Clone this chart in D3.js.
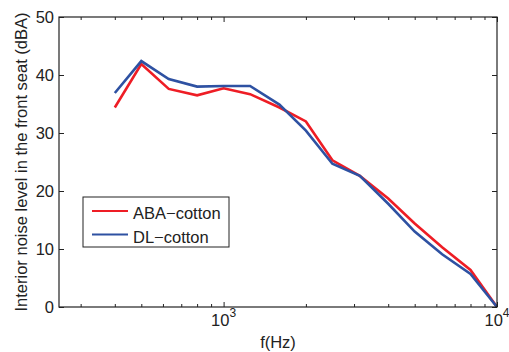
<!DOCTYPE html>
<html>
<head>
<meta charset="utf-8">
<script src="https://d3js.org/d3.v7.min.js"></script>
<style>
  body { margin: 0; background: #fff; }
  text { font-family: "Liberation Sans", Arial, sans-serif; fill: #222; }
</style>
</head>
<body>
<div class="noise-chart"></div>
<script>
// third-octave centre frequencies (Hz)
let freqs = [400, 500, 630, 800, 1000, 1250, 1600, 2000, 2500, 3150, 4000, 5000, 6300, 8000, 10000];
// interior noise level in the front seat (dBA)
let abaCotton = [34.4, 41.9, 37.6, 36.5, 37.7, 36.7, 34.4, 32.0, 25.3, 22.6, 18.7, 14.4, 10.3, 6.4, 0];
let dlCotton = [36.9, 42.4, 39.3, 38.0, 38.1, 38.1, 34.9, 30.4, 24.7, 22.6, 17.8, 13.0, 9.1, 5.7, 0];
let seriesNames = ["ABA\u2212cotton", "DL\u2212cotton"];
let seriesColors = ["#ee1d25", "#2e51a2"];
let yTicks = [0, 10, 20, 30, 40, 50];
let xMajor = [1000, 10000];
let xMinor = [300, 400, 500, 600, 700, 800, 900, 2000, 3000, 4000, 5000, 6000, 7000, 8000, 9000];

// set the dimensions and margins of the graph
let W = 509, H = 352;
let margin = { top: 17, right: 12, bottom: 45, left: 59 },
    width = W - margin.left - margin.right,
    height = H - margin.top - margin.bottom;

let svg = d3.select(".noise-chart")
    .append("svg")
    .attr("width", W)
    .attr("height", H)
    .append("g")
    .attr("transform", "translate(" + margin.left + "," + margin.top + ")");

let x = d3.scaleLog().domain([250, 10000]).range([0, width]);
let y = d3.scaleLinear().domain([0, 50]).range([height, 0]);

// lines first, box on top
let series = [abaCotton, dlCotton];
let line = d3.line()
    .x(function (d, i) { return x(freqs[i]) })
    .y(function (d) { return y(d) });

series.forEach(function (vals, k) {
    svg.append("path")
        .datum(vals)
        .attr("d", line)
        .attr("fill", "none")
        .attr("stroke", seriesColors[k])
        .attr("stroke-width", 2.6)
        .attr("stroke-linejoin", "miter");
});

// axes with inward ticks (matlab style box)
svg.append("g")
    .attr("transform", "translate(0," + height + ")")
    .call(d3.axisBottom(x).tickValues(xMajor).tickSize(-5).tickFormat(""))
    .call(function (g) { g.select(".domain").remove() });
svg.append("g")
    .attr("transform", "translate(0," + height + ")")
    .call(d3.axisBottom(x).tickValues(xMinor).tickSize(-3).tickFormat(""))
    .call(function (g) { g.select(".domain").remove() });
svg.append("g")
    .call(d3.axisTop(x).tickValues(xMajor).tickSize(-5).tickFormat(""))
    .call(function (g) { g.select(".domain").remove() });
svg.append("g")
    .call(d3.axisTop(x).tickValues(xMinor).tickSize(-3).tickFormat(""))
    .call(function (g) { g.select(".domain").remove() });
svg.append("g")
    .call(d3.axisLeft(y).tickValues(yTicks).tickSize(-5).tickFormat(""))
    .call(function (g) { g.select(".domain").remove() });
svg.append("g")
    .attr("transform", "translate(" + width + ",0)")
    .call(d3.axisRight(y).tickValues(yTicks).tickSize(-5).tickFormat(""))
    .call(function (g) { g.select(".domain").remove() });
svg.selectAll(".tick line").attr("stroke", "#222").attr("stroke-width", 1);

svg.append("rect")
    .attr("width", width)
    .attr("height", height)
    .attr("fill", "none")
    .attr("stroke", "#222")
    .attr("stroke-width", 1.2);

// y tick labels
svg.selectAll(".ylab")
    .data(yTicks)
    .enter()
    .append("text")
    .attr("x", -5)
    .attr("y", function (d) { return y(d) + 6 })
    .attr("text-anchor", "end")
    .style("font-size", "16.5px")
    .text(function (d) { return d });

// x tick labels as 10^n
let xl = svg.selectAll(".xlab")
    .data(xMajor)
    .enter()
    .append("text")
    .attr("x", function (d) { return x(d) })
    .attr("y", height + 19)
    .attr("text-anchor", "middle")
    .style("font-size", "16.5px");
xl.append("tspan").text("10");
xl.append("tspan")
    .attr("dy", -9)
    .style("font-size", "12px")
    .text(function (d) { return Math.round(Math.log10(d)) });

// axis titles
svg.append("text")
    .attr("x", width / 2)
    .attr("y", height + 41)
    .attr("text-anchor", "middle")
    .style("font-size", "16.5px")
    .text("f(Hz)");

svg.append("text")
    .attr("transform", "translate(" + (27 - margin.left) + "," + (height / 2) + ") rotate(-90)")
    .attr("text-anchor", "middle")
    .style("font-size", "16.5px")
    .text("Interior noise level in the front seat (dBA)");

// legend
let lg = svg.append("g")
    .attr("transform", "translate(" + (83 - margin.left) + "," + (197 - margin.top) + ")");
lg.append("rect")
    .attr("width", 146)
    .attr("height", 50)
    .attr("fill", "#fff")
    .attr("stroke", "#222")
    .attr("stroke-width", 1);
seriesNames.forEach(function (name, k) {
    let ry = 14 + k * 23.5;
    lg.append("line")
        .attr("x1", 9).attr("x2", 45)
        .attr("y1", ry).attr("y2", ry)
        .attr("stroke", seriesColors[k])
        .attr("stroke-width", 2);
    lg.append("text")
        .attr("x", 50)
        .attr("y", ry + 8)
        .style("font-size", "16.5px")
        .text(name);
});
</script>
</body>
</html>
